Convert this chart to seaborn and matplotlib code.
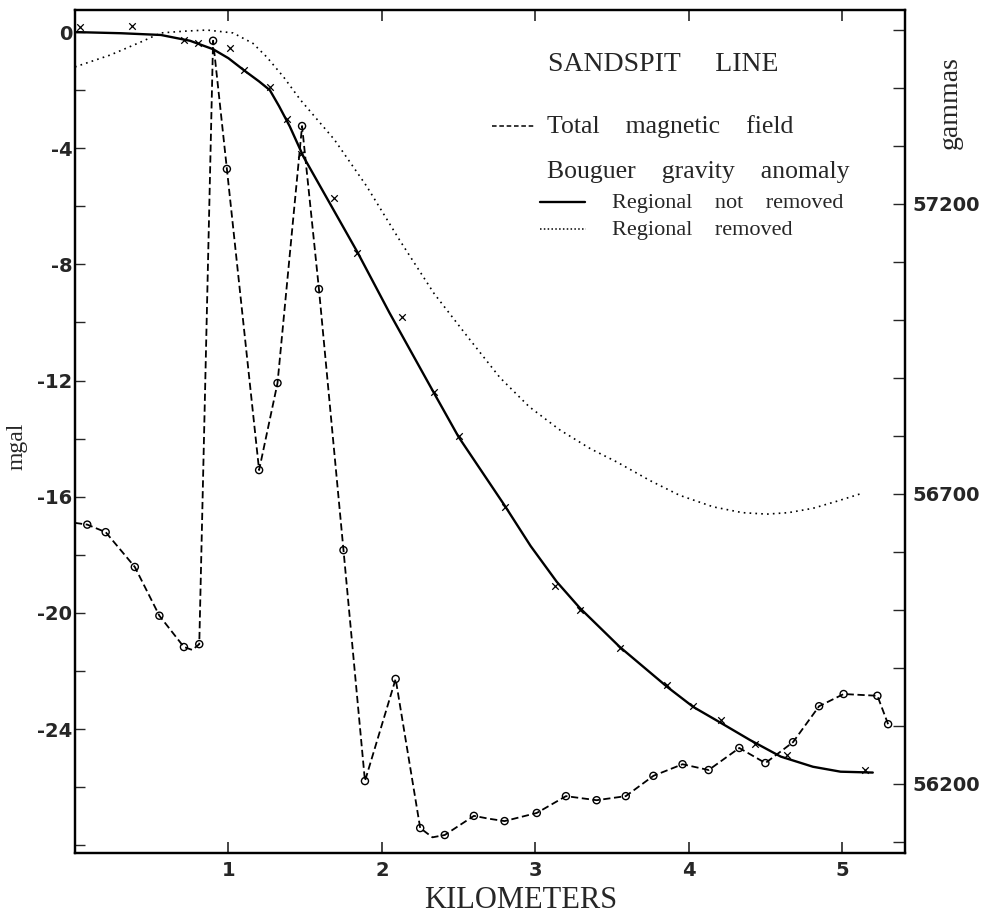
import numpy as np
import pandas as pd
import matplotlib
matplotlib.use("Agg")
import matplotlib.pyplot as plt
from matplotlib.ticker import MultipleLocator
from matplotlib.lines import Line2D
import seaborn as sns

# Bouguer gravity anomaly, regional not removed (smooth curve, mgal)
grav_km = [0.0, 0.3, 0.56, 0.75, 0.9, 1.0, 1.1, 1.2, 1.27, 1.33, 1.4, 1.49, 1.84,
           2.05, 2.34, 2.50, 2.80, 2.97, 3.14, 3.29, 3.55, 3.86, 4.03, 4.21, 4.40,
           4.60, 4.81, 4.99, 5.2]
grav_mgal = [0.0, -0.04, -0.1, -0.3, -0.59, -0.9, -1.31, -1.7, -2.0, -2.55, -3.25,
             -4.3, -7.57, -9.67, -12.43, -13.94, -16.3, -17.7, -18.93, -19.83,
             -21.17, -22.55, -23.24, -23.79, -24.38, -24.95, -25.3, -25.47, -25.5]

# gravity stations (x markers)
stn_km = [0.03, 0.37, 0.71, 0.80, 1.01, 1.10, 1.27, 1.38, 1.47, 1.69, 1.84, 2.13,
          2.34, 2.50, 2.80, 3.13, 3.29, 3.55, 3.86, 4.03, 4.21, 4.43, 4.64, 5.15]
stn_mgal = [0.17, 0.2, -0.28, -0.38, -0.55, -1.31, -1.9, -3.0, -4.2, -5.7, -7.6,
            -9.8, -12.4, -13.9, -16.35, -19.07, -19.9, -21.2, -22.5, -23.2, -23.7,
            -24.5, -24.9, -25.4]

# Bouguer gravity anomaly, regional removed (mgal)
resid_km = [0.0, 0.23, 0.43, 0.56, 0.71, 0.86, 1.03, 1.16, 1.25, 1.36, 1.47, 1.69,
            1.90, 2.12, 2.34, 2.56, 2.77, 2.96, 3.16, 3.36, 3.53, 3.75, 3.94, 4.16,
            4.35, 4.51, 4.65, 4.81, 4.97, 5.12]
resid_mgal = [-1.2, -0.79, -0.34, -0.03, 0.03, 0.07, -0.03, -0.39, -0.86, -1.55,
              -2.34, -3.7, -5.3, -7.2, -9.0, -10.5, -11.9, -12.9, -13.7, -14.35,
              -14.8, -15.45, -15.95, -16.35, -16.55, -16.6, -16.55, -16.4, -16.15,
              -15.9]

# Total magnetic field (gammas), dashed line through the readings
mag_line_km = [0.0, 0.08, 0.20, 0.39, 0.55, 0.71, 0.765, 0.81, 0.90, 0.99, 1.20,
               1.32, 1.48, 1.59, 1.75, 1.89, 2.09, 2.25, 2.33, 2.41, 2.60, 2.70,
               2.80, 3.01, 3.20, 3.40, 3.59, 3.77, 3.96, 4.13, 4.33, 4.50, 4.68,
               4.85, 5.01, 5.23, 5.30]
mag_line_gam = [56650, 56647, 56634, 56574, 56490, 56436, 56431, 56441, 57481,
                57260, 56741, 56891, 57334, 57053, 56603, 56205, 56381, 56124,
                56108, 56112, 56145, 56140, 56136, 56150, 56179, 56172, 56179,
                56214, 56234, 56224, 56262, 56236, 56272, 56334, 56355, 56352,
                56303]
# magnetic readings (circles)
mag_km = [0.08, 0.20, 0.39, 0.55, 0.71, 0.81, 0.90, 0.99, 1.20, 1.32, 1.48, 1.59,
          1.75, 1.89, 2.09, 2.25, 2.41, 2.60, 2.80, 3.01, 3.20, 3.40, 3.59, 3.77,
          3.96, 4.13, 4.33, 4.50, 4.68, 4.85, 5.01, 5.23, 5.30]
mag_gam = [56647, 56634, 56574, 56490, 56436, 56441, 57481, 57260, 56741, 56891,
           57334, 57053, 56603, 56205, 56381, 56124, 56112, 56145, 56136, 56150,
           56179, 56172, 56179, 56214, 56234, 56224, 56262, 56236, 56272, 56334,
           56355, 56352, 56303]

x_ticks = [1, 2, 3, 4, 5]
y_ticks = [0, -4, -8, -12, -16, -20, -24]
y_labels = ["0", "-4", "-8", "-12", "-16", "-20", "-24"]
g_ticks = [56200, 56700, 57200]

sns.set_style("ticks")
plt.rcParams['font.family'] = ['Liberation Serif', 'DejaVu Serif']

fig = plt.figure(figsize=(9.91, 9.17), dpi=100)
ax = fig.add_axes([75 / 991, 1 - 853 / 917, 830 / 991, 843 / 917])
ax2 = ax.twinx()

grav = pd.DataFrame({'km': grav_km, 'mgal': grav_mgal})
resid = pd.DataFrame({'km': resid_km, 'mgal': resid_mgal})
stn = pd.DataFrame({'km': stn_km, 'mgal': stn_mgal})
magl = pd.DataFrame({'km': mag_line_km, 'gam': mag_line_gam})
magp = pd.DataFrame({'km': mag_km, 'gam': mag_gam})

sns.lineplot(data=grav, x='km', y='mgal', ax=ax, color='black', lw=1.7,
             sort=False, estimator=None)
sns.lineplot(data=resid, x='km', y='mgal', ax=ax, color='black', lw=1.2,
             linestyle=(0, (1, 2.5)), sort=False, estimator=None)
sns.scatterplot(data=stn, x='km', y='mgal', ax=ax, marker='x', s=22,
                color='black', linewidth=0.9)

sns.lineplot(data=magl, x='km', y='gam', ax=ax2, color='black', lw=1.3,
             linestyle=(0, (4, 2)), sort=False, estimator=None)
sns.scatterplot(data=magp, x='km', y='gam', ax=ax2, marker='o', s=26,
                facecolor='none', edgecolor='black', linewidth=1.0, zorder=5)

ax.set_xlim(0, 5.41)
ax.set_ylim(-28.27, 0.76)
ax2.set_ylim(56081, 57534)

tick_font = dict(family='DejaVu Sans', weight='bold', size=14)

ax.set_xticks(x_ticks)
ax.set_xticklabels([str(t) for t in x_ticks], **tick_font)
ax.set_yticks(y_ticks)
ax.set_yticklabels(y_labels, **tick_font)
ax.yaxis.set_minor_locator(MultipleLocator(2))
ax2.set_yticks(g_ticks)
ax2.set_yticklabels([str(t) for t in g_ticks], **tick_font)
ax2.yaxis.set_minor_locator(MultipleLocator(100))

ax.tick_params(axis='x', which='both', direction='in', top=True, bottom=True,
               length=8, width=1.2, pad=6)
ax.tick_params(axis='y', which='both', direction='in', left=True, right=False,
               length=7, width=1.0, pad=2)
ax2.tick_params(axis='y', which='both', direction='in', left=False, right=True,
                length=9, width=1.0, pad=5)

for a in (ax, ax2):
    for s in a.spines.values():
        s.set_visible(True)
        s.set_linewidth(1.6)
        s.set_color('black')

ax.set_xlabel('KILOMETERS', fontsize=22)
ax.xaxis.set_label_coords(0.537, -0.039)
ax.set_ylabel('mgal', fontsize=17)
ax.yaxis.set_label_coords(-0.057, 0.482)
ax2.set_ylabel('gammas', fontsize=20, rotation=90)
ax2.yaxis.set_label_coords(1.039, 0.890)

# legend block
ax.text(0.570, 0.935, 'SANDSPIT     LINE', transform=ax.transAxes, fontsize=20,
        va='center', ha='left')
ax.add_line(Line2D([0.502, 0.554], [0.862, 0.862], transform=ax.transAxes,
                   color='black', lw=1.1, linestyle=(0, (3, 1.8))))
ax.text(0.569, 0.862, 'Total    magnetic    field', transform=ax.transAxes,
        fontsize=18.5, va='center', ha='left')
ax.text(0.569, 0.808, 'Bouguer    gravity    anomaly', transform=ax.transAxes,
        fontsize=18.5, va='center', ha='left')
ax.add_line(Line2D([0.560, 0.614], [0.772, 0.772], transform=ax.transAxes,
                   color='black', lw=1.7))
ax.text(0.647, 0.771, 'Regional    not    removed', transform=ax.transAxes,
        fontsize=16, va='center', ha='left')
ax.add_line(Line2D([0.560, 0.616], [0.740, 0.740], transform=ax.transAxes,
                   color='black', lw=1.1, linestyle=(0, (1, 1.5))))
ax.text(0.647, 0.739, 'Regional    removed', transform=ax.transAxes,
        fontsize=16, va='center', ha='left')

fig.savefig('out.png', dpi=100)
